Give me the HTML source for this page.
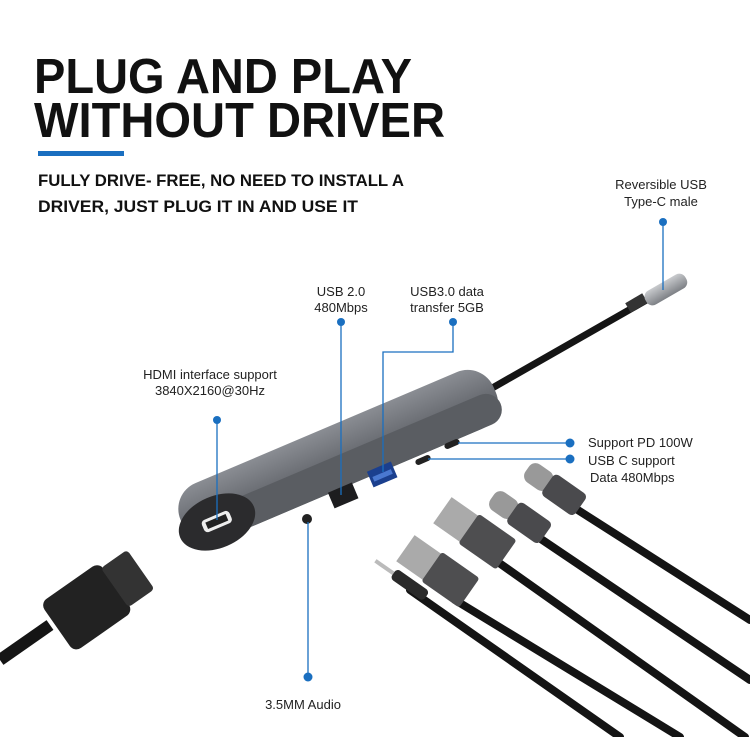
<!DOCTYPE html>
<html><head><style>
html,body{margin:0;padding:0;background:#fff;}
svg{display:block;}
</style></head><body>
<svg width="750" height="737" viewBox="0 0 750 737" xmlns="http://www.w3.org/2000/svg">
<defs>
<linearGradient id="hub" x1="0" y1="0" x2="0" y2="1">
<stop offset="0" stop-color="#8a8d93"/><stop offset="0.5" stop-color="#6b6e74"/><stop offset="1" stop-color="#55585d"/>
</linearGradient>
<linearGradient id="metal" x1="0" y1="0" x2="0" y2="1">
<stop offset="0" stop-color="#c9cbce"/><stop offset="1" stop-color="#7d8085"/>
</linearGradient>
</defs>
<rect width="750" height="737" fill="#fff"/>
<g font-family="Liberation Sans, sans-serif" font-weight="bold" fill="#111">
<text x="34" y="93" font-size="49" textLength="378" lengthAdjust="spacingAndGlyphs">PLUG AND PLAY</text>
<text x="34" y="137" font-size="49" textLength="411" lengthAdjust="spacingAndGlyphs">WITHOUT DRIVER</text>
</g>
<rect x="38" y="151" width="86" height="5" fill="#1a6fc0"/>
<g font-family="Liberation Sans, sans-serif" font-weight="bold" fill="#111" font-size="17">
<text x="38" y="186" textLength="366" lengthAdjust="spacingAndGlyphs">FULLY DRIVE- FREE, NO NEED TO INSTALL A</text>
<text x="38" y="212" textLength="320" lengthAdjust="spacingAndGlyphs">DRIVER,   JUST PLUG IT IN AND USE IT</text>
</g>
<g font-family="Liberation Sans, sans-serif" fill="#222" font-size="13" text-anchor="middle">
<text x="661" y="189">Reversible USB</text><text x="661" y="206">Type-C male</text>
<text x="341" y="296">USB 2.0</text><text x="341" y="312">480Mbps</text>
<text x="447" y="296">USB3.0 data</text><text x="447" y="312">transfer 5GB</text>
<text x="210" y="379">HDMI interface support</text><text x="210" y="395">3840X2160@30Hz</text>
<text x="303" y="709">3.5MM Audio</text>
</g>
<g font-family="Liberation Sans, sans-serif" fill="#222" font-size="13">
<text x="588" y="447">Support PD 100W</text>
<text x="588" y="465">USB C support</text>
<text x="590" y="482">Data 480Mbps</text>
</g>
<!-- main cable -->
<path d="M480 395 L650 298" stroke="#151515" stroke-width="7" stroke-linecap="round"/>
<path d="M628 308 L645 298" stroke="#333" stroke-width="11"/>
<g transform="translate(665,290) rotate(-30)"><rect x="-22" y="-8" width="46" height="16" rx="7" fill="url(#metal)"/></g>
<!-- hub -->
<g transform="translate(342,460) rotate(-23)">
<rect x="-172" y="-36" width="340" height="62" rx="28" fill="url(#hub)"/>
<rect x="-172" y="-6" width="340" height="32" rx="16" fill="#5a5d62"/>
</g>
<g transform="translate(217,522) rotate(-23)"><ellipse cx="0" cy="0" rx="40" ry="26" fill="#2b2b2d"/><rect x="-15" y="-7" width="30" height="13" rx="4" fill="#eee"/><rect x="-11" y="-4" width="22" height="7" fill="#222"/></g>
<g transform="translate(343,495) rotate(-23)"><rect x="-13" y="-8" width="26" height="17" fill="#1d1d1f"/></g>
<g transform="translate(382,474) rotate(-23)"><rect x="-13" y="-8" width="26" height="17" fill="#1b3f8e"/><rect x="-10" y="-1" width="20" height="5" fill="#4a78d0"/></g>
<circle cx="307" cy="519" r="5" fill="#222"/>
<g transform="translate(423,460) rotate(-23)"><rect x="-8" y="-3" width="16" height="6" rx="3" fill="#222"/></g>
<g transform="translate(452,444) rotate(-23)"><rect x="-8" y="-3" width="16" height="6" rx="3" fill="#222"/></g>
<!-- connector lines -->
<g stroke="#1a6fc0" stroke-width="1.3" fill="none">
<path d="M663 222 V290"/>
<path d="M341 322 V495"/>
<path d="M453 322 V352 H383 V472"/>
<path d="M217 420 V520"/>
<path d="M570 443 H458"/>
<path d="M570 459 H428"/>
<path d="M308 677 V522"/>
</g>
<g fill="#1a6fc0">
<circle cx="663" cy="222" r="4"/><circle cx="341" cy="322" r="4"/><circle cx="453" cy="322" r="4"/>
<circle cx="217" cy="420" r="4"/><circle cx="570" cy="443" r="4.5"/><circle cx="570" cy="459" r="4.5"/>
<circle cx="308" cy="677" r="4.5"/>
</g>
<!-- HDMI cable bottom-left -->
<path d="M0 660 L50 625" stroke="#151515" stroke-width="12"/>
<g transform="translate(90,605) rotate(-35)"><rect x="-40" y="-30" width="72" height="60" rx="8" fill="#222"/><rect x="30" y="-24" width="32" height="48" rx="4" fill="#333"/></g>
<!-- cables bottom right -->
<g stroke="#141414" stroke-width="8" stroke-linecap="round">
<path d="M570 505 L750 620"/>
<path d="M535 535 L750 680"/>
<path d="M495 560 L745 737"/>
<path d="M455 600 L680 737"/>
<path d="M410 590 L620 737"/>
</g>
<g transform="translate(560,492) rotate(35)"><rect x="-40" y="-11" width="28" height="22" rx="8" fill="#999"/><rect x="-15" y="-13" width="40" height="26" rx="5" fill="#4a4a4d"/></g>
<g transform="translate(525,520) rotate(35)"><rect x="-40" y="-11" width="28" height="22" rx="8" fill="#999"/><rect x="-15" y="-13" width="40" height="26" rx="5" fill="#4a4a4d"/></g>
<g transform="translate(485,540) rotate(35)"><rect x="-52" y="-16" width="34" height="32" fill="#aaa"/><rect x="-20" y="-18" width="46" height="36" rx="3" fill="#4e4e50"/></g>
<g transform="translate(448,578) rotate(35)"><rect x="-52" y="-16" width="34" height="32" fill="#aaa"/><rect x="-20" y="-18" width="46" height="36" rx="3" fill="#4e4e50"/></g>
<g transform="translate(400,578) rotate(35)"><rect x="-30" y="-2" width="22" height="4" fill="#bbb"/><rect x="-8" y="-6" width="40" height="12" rx="4" fill="#2a2a2a"/></g>
</svg>
</body></html>
